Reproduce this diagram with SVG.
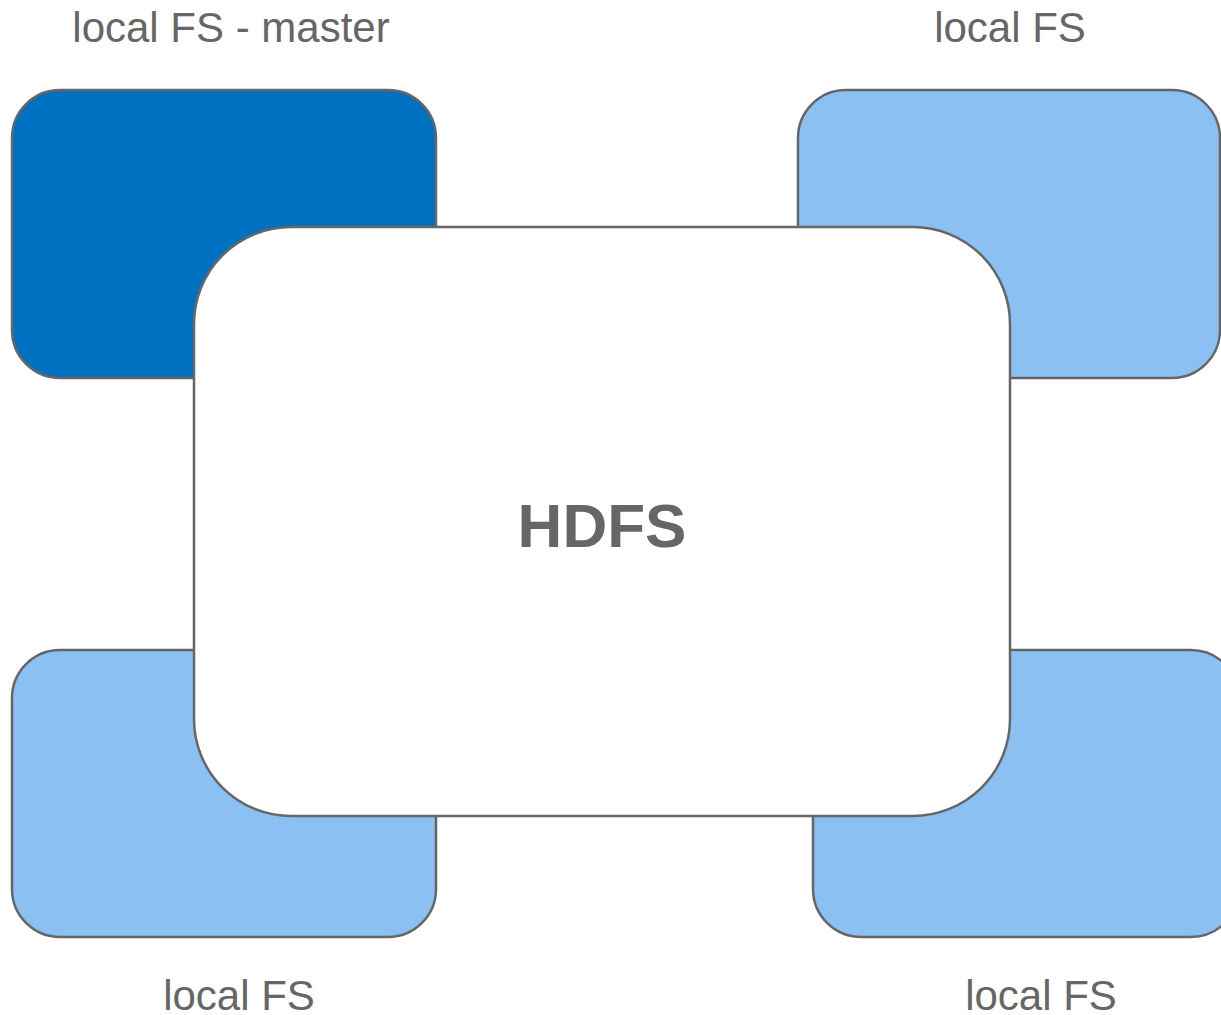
<svg xmlns="http://www.w3.org/2000/svg" width="1221" height="1015" viewBox="0 0 1221 1015">
<style>
.box{stroke:#666666;stroke-width:2.5}
.light{fill:#8BC0F2}
.dark{fill:#0070C0}
.main{fill:#FFFFFF}
.lbl{font-family:"Liberation Sans",Arial,sans-serif;font-size:42px;fill:#666666;text-anchor:middle}
.title{font-family:"Liberation Sans",Arial,sans-serif;font-size:62px;font-weight:bold;fill:#666666;text-anchor:middle}
</style>
<rect width="1221" height="1015" fill="#FFFFFF"/>
<g id="master">
<rect class="box dark" x="12" y="90" width="424" height="288" rx="48" ry="48"/>
<text class="lbl" x="231" y="42">local FS - master</text>
</g>
<g id="node-top-right">
<rect class="box light" x="798" y="90" width="422" height="288" rx="48" ry="48"/>
<text class="lbl" x="1010" y="42">local FS</text>
</g>
<g id="node-bottom-left">
<rect class="box light" x="12" y="650" width="424" height="287" rx="48" ry="48"/>
<text class="lbl" x="239" y="1010">local FS</text>
</g>
<g id="node-bottom-right">
<rect class="box light" x="813" y="650" width="426" height="287" rx="48" ry="48"/>
<text class="lbl" x="1041" y="1010">local FS</text>
</g>
<g id="hdfs">
<rect class="box main" x="194" y="227" width="816" height="589" rx="97" ry="97"/>
<text class="title" x="602" y="547">HDFS</text>
</g>
<g id="connectors"></g>
</svg>
